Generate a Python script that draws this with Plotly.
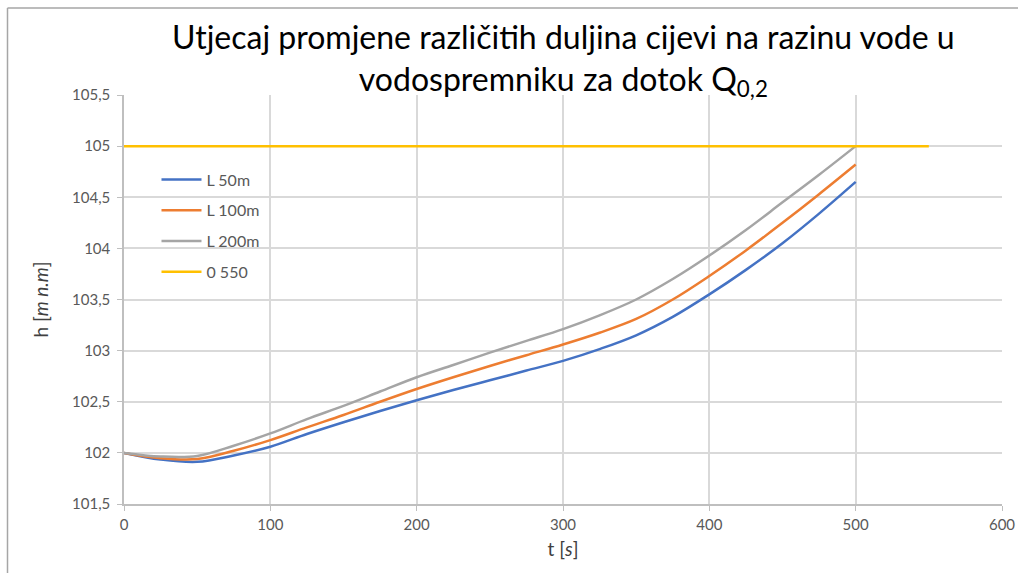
import plotly.graph_objects as go

# time [s]
t = [0, 25, 50, 75, 100, 125, 150, 175, 200, 225, 250, 275, 300, 325, 350, 375, 400, 425, 450, 475, 500]

# water level h [m n.m] for each pipe length
h_50 = [102.0, 101.935, 101.912, 101.975, 102.06, 102.185, 102.30, 102.41, 102.515, 102.615, 102.71, 102.805,
        102.90, 103.015, 103.15, 103.33, 103.55, 103.79, 104.05, 104.34, 104.65]
h_100 = [102.0, 101.948, 101.94, 102.02, 102.125, 102.25, 102.37, 102.50, 102.625, 102.74, 102.85, 102.955,
         103.06, 103.175, 103.31, 103.50, 103.73, 103.98, 104.25, 104.53, 104.82]
h_200 = [102.0, 101.965, 101.97, 102.07, 102.19, 102.33, 102.46, 102.60, 102.74, 102.86, 102.98, 103.095,
         103.21, 103.345, 103.50, 103.70, 103.93, 104.18, 104.45, 104.72, 105.0]

t_limit = [0, 550]
h_limit = [105, 105]

FONT = "Lato, 'Open Sans', sans-serif"

fig = go.Figure()
series = [
    ("L 50m", t, h_50, "#4472C4"),
    ("L 100m", t, h_100, "#ED7D31"),
    ("L 200m", t, h_200, "#A5A5A5"),
    ("0 550", t_limit, h_limit, "#FFC000"),
]
for i, (name, x, y, color) in enumerate(series):
    fig.add_trace(go.Scatter(
        x=x, y=y, name=name, mode="lines",
        line=dict(color=color, width=2.5, shape="spline", smoothing=1),
        legendgroup=f"g{i}",
    ))

fig.update_layout(
    width=1018, height=573,
    margin=dict(l=124, r=16, t=95, b=68.5, autoexpand=False),
    paper_bgcolor="white", plot_bgcolor="white",
    separators=", ",
    font=dict(family=FONT, color="#595959"),
    showlegend=True,
    legend=dict(
        x=0.037, y=0.835, xanchor="left", yanchor="top",
        bgcolor="rgba(0,0,0,0)", font=dict(size=16, color="#595959"),
        tracegroupgap=7, itemwidth=40,
    ),
    xaxis=dict(
        range=[0, 600], dtick=100, automargin=False,
        showgrid=True, gridcolor="#D9D9D9", gridwidth=1.5,
        showline=True, linecolor="#BFBFBF", linewidth=1.5,
        ticks="outside", ticklen=5, tickcolor="#BFBFBF",
        tickfont=dict(size=15, color="#595959"), ticklabelstandoff=1,
        zeroline=False,
        title=dict(text="t [<i>s</i>]", font=dict(size=19, color="#404040"), standoff=11),
    ),
    yaxis=dict(
        range=[101.5, 105.5], dtick=0.5, automargin=False,
        showgrid=True, gridcolor="#D9D9D9", gridwidth=1.5,
        showline=True, linecolor="#BFBFBF", linewidth=1.5,
        ticks="outside", ticklen=5, tickcolor="#BFBFBF",
        tickfont=dict(size=15, color="#595959"), ticklabelstandoff=4,
        zeroline=False,
        title=dict(text="h [<i>m n.m</i>]", font=dict(size=19, color="#404040"), standoff=18),
    ),
    annotations=[
        dict(
            text="Utjecaj promjene različitih duljina cijevi na razinu vode u<br>vodospremniku za dotok Q<sub>0,2</sub>",
            xref="paper", yref="paper", x=0.5, y=1 + (95 - 15) / 409.5,
            xanchor="center", yanchor="top", showarrow=False, align="center",
            font=dict(size=32, color="#000000", family=FONT),
        ),
    ],
    # chart frame (top and left edges)
    shapes=[
        dict(type="line", xref="paper", yref="paper", x0=(7.5 - 124) / 878, x1=1.02,
             y0=1 + (95 - 8) / 409.5, y1=1 + (95 - 8) / 409.5,
             line=dict(color="#A6A6A6", width=1.5)),
        dict(type="line", xref="paper", yref="paper", x0=(7.5 - 124) / 878, x1=(7.5 - 124) / 878,
             y0=1 + (95 - 8) / 409.5, y1=-0.2,
             line=dict(color="#A6A6A6", width=1.5)),
    ],
)

# no page margin, so the figure fills the window exactly
fig.write_html(
    "out.html",
    config={"displayModeBar": False},
    post_script="document.body.style.margin = '0'; document.body.style.overflow = 'hidden';",
)
